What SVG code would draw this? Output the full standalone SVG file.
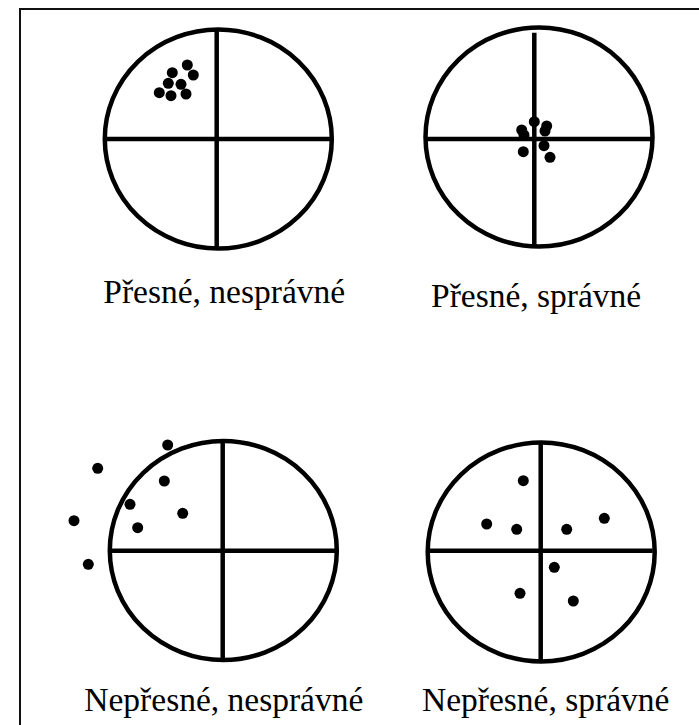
<svg xmlns="http://www.w3.org/2000/svg" width="699" height="725" viewBox="0 0 699 725">
<style>
.ring{fill:none;stroke:#000;stroke-width:4.5}
.axis{stroke:#000;stroke-width:4.5;fill:none}
.dot{fill:#000}
.lbl{font-family:"Liberation Serif","Times New Roman",serif;font-size:33.5px;fill:#000}
</style>
<rect x="0" y="0" width="699" height="725" fill="#fff"/>
<rect x="20" y="9" width="720" height="740" fill="none" stroke="#111" stroke-width="2"/>
<g id="target-precise-incorrect">
<ellipse class="ring" cx="218.3" cy="139" rx="113.5" ry="109.5"/>
<line class="axis" x1="105" y1="139" x2="331" y2="139"/>
<line class="axis" x1="216.7" y1="28" x2="216.7" y2="250"/>
<circle class="dot" cx="187.3" cy="65" r="5.5"/>
<circle class="dot" cx="193.3" cy="75" r="5.5"/>
<circle class="dot" cx="172.3" cy="72.7" r="5.5"/>
<circle class="dot" cx="168.3" cy="83.3" r="5.5"/>
<circle class="dot" cx="181" cy="84.3" r="5.5"/>
<circle class="dot" cx="159.3" cy="92.7" r="5.5"/>
<circle class="dot" cx="171" cy="95.7" r="5.5"/>
<circle class="dot" cx="186" cy="94" r="5.5"/>
<text class="lbl" x="103.3" y="303">Přesné, nesprávné</text>
</g>
<g id="target-precise-correct">
<ellipse class="ring" cx="539" cy="137" rx="113.5" ry="109.5"/>
<line class="axis" x1="425" y1="139" x2="652" y2="139"/>
<line class="axis" x1="534.3" y1="32.7" x2="534.3" y2="247.3"/>
<circle class="dot" cx="534.3" cy="121.7" r="5.5"/>
<circle class="dot" cx="521.7" cy="130" r="5.5"/>
<circle class="dot" cx="524" cy="135" r="5.5"/>
<circle class="dot" cx="546.7" cy="126" r="5.5"/>
<circle class="dot" cx="545" cy="131" r="5.5"/>
<circle class="dot" cx="544" cy="145.7" r="5.5"/>
<circle class="dot" cx="523.3" cy="151.7" r="5.5"/>
<circle class="dot" cx="550" cy="157.3" r="5.5"/>
<text class="lbl" x="431" y="307">Přesné, správné</text>
</g>
<g id="target-imprecise-incorrect">
<ellipse class="ring" cx="223.3" cy="550.5" rx="113.5" ry="109.5"/>
<line class="axis" x1="110" y1="550.7" x2="337.5" y2="550.7"/>
<line class="axis" x1="222.7" y1="441" x2="222.7" y2="659"/>
<circle class="dot" cx="167.7" cy="445" r="5.5"/>
<circle class="dot" cx="97.7" cy="468.3" r="5.5"/>
<circle class="dot" cx="164.3" cy="481" r="5.5"/>
<circle class="dot" cx="130" cy="504.3" r="5.5"/>
<circle class="dot" cx="182.7" cy="513.3" r="5.5"/>
<circle class="dot" cx="74" cy="520.7" r="5.5"/>
<circle class="dot" cx="137.7" cy="527.7" r="5.5"/>
<circle class="dot" cx="88.3" cy="564.3" r="5.5"/>
<text class="lbl" x="84.3" y="711">Nepřesné, nesprávné</text>
</g>
<g id="target-imprecise-correct">
<ellipse class="ring" cx="541.2" cy="552" rx="113.5" ry="109.5"/>
<line class="axis" x1="430" y1="550.7" x2="652.7" y2="550.7"/>
<line class="axis" x1="540.7" y1="442" x2="540.7" y2="662"/>
<circle class="dot" cx="523.3" cy="480.7" r="5.5"/>
<circle class="dot" cx="486.7" cy="524" r="5.5"/>
<circle class="dot" cx="516.7" cy="529.3" r="5.5"/>
<circle class="dot" cx="566.7" cy="529.3" r="5.5"/>
<circle class="dot" cx="604.3" cy="518.3" r="5.5"/>
<circle class="dot" cx="554.3" cy="567.3" r="5.5"/>
<circle class="dot" cx="520" cy="593.3" r="5.5"/>
<circle class="dot" cx="573.3" cy="601" r="5.5"/>
<text class="lbl" x="422" y="710.5">Nepřesné, správné</text>
</g>
<g id="connectors"/>
</svg>
